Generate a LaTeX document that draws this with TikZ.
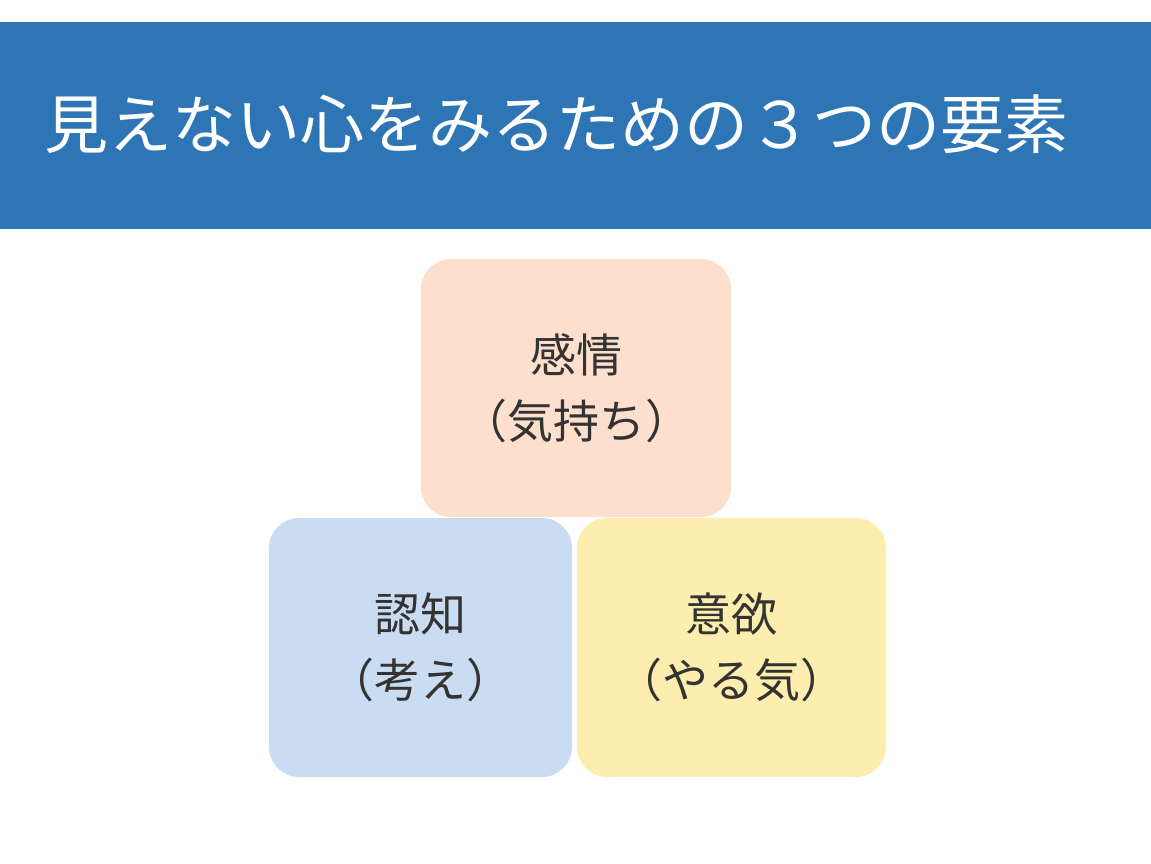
\documentclass[tikz,border=0pt]{standalone}
\usepackage{fontspec}
\setmainfont{Noto Sans CJK JP}
\usepackage{tikz}
\usetikzlibrary{positioning}

\definecolor{bannerblue}{HTML}{2E75B6}
\definecolor{feelpeach}{HTML}{FCDFCC}
\definecolor{thinkblue}{HTML}{CADCF1}
\definecolor{willyellow}{HTML}{FDEDAE}
\definecolor{boxtext}{HTML}{333333}

\begin{document}
\begin{tikzpicture}[x=1pt, y=-1pt, inner sep=0pt]

    \tikzstyle{elem}=[rounded corners=30pt, text=boxtext, align=center,
                      font=\fontsize{46}{66}\selectfont]

    \useasboundingbox (0,0) rectangle (1151,864);

    % banner
    \fill[bannerblue] (0,22) rectangle (1151,229);
    \node[anchor=west, text=white, font=\fontsize{64}{70}\selectfont] (title) at (44,124)
        {見えない心をみるための３つの要素};

    % three elements
    \node[elem, fill=feelpeach,  minimum width=310pt, minimum height=258pt] (feel)  at (576,388)
        {感情\\（気持ち）};
    \node[elem, fill=thinkblue,  minimum width=303pt, minimum height=259pt] (think) at (420.5,647.5)
        {認知\\（考え）};
    \node[elem, fill=willyellow, minimum width=309pt, minimum height=259pt] (will)  at (731.5,647.5)
        {意欲\\（やる気）};

\end{tikzpicture}
\end{document}
